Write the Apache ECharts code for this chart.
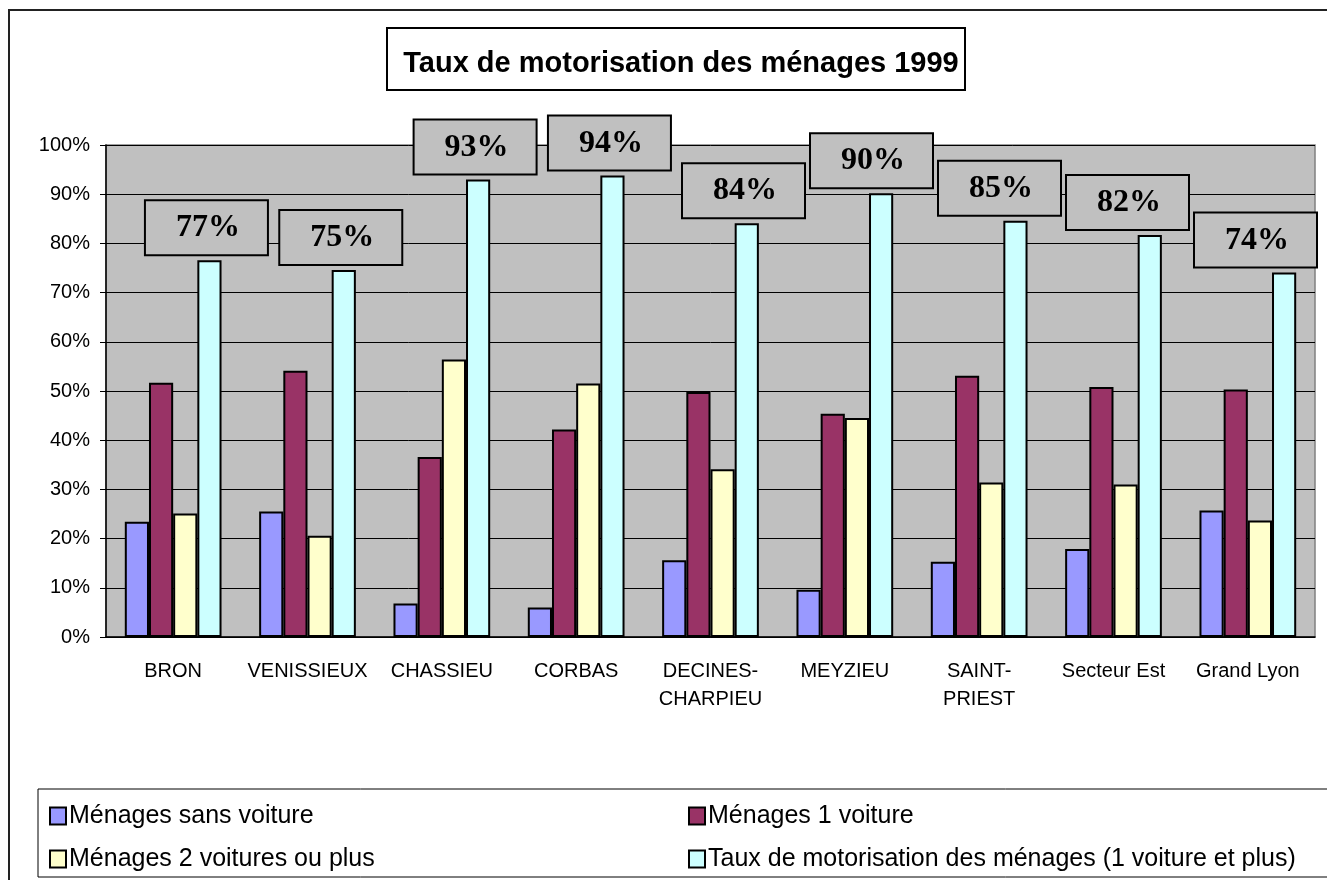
<!DOCTYPE html>
<html>
<head>
<meta charset="utf-8">
<title>Taux de motorisation des ménages 1999</title>
<script src="https://cdn.jsdelivr.net/npm/echarts@6/dist/echarts.min.js"></script>
<style>
  html, body { margin: 0; padding: 0; background: #fff; }
  #chart { width: 1327px; height: 880px; }
</style>
</head>
<body>
<div id="chart"></div>
<script>
// communes / secteurs
const communes = ['BRON', 'VENISSIEUX', 'CHASSIEU', 'CORBAS', 'DECINES-CHARPIEU',
  'MEYZIEU', 'SAINT-PRIEST', 'Secteur Est', 'Grand Lyon'];

// valeurs en %
const sansVoiture = [23.4, 25.5, 6.8, 6.0, 15.6, 9.6, 15.3, 17.9, 25.7];
const uneVoiture = [51.7, 54.1, 36.6, 42.2, 49.8, 45.4, 53.1, 50.8, 50.3];
const deuxVoitures = [25.1, 20.6, 56.4, 51.5, 34.1, 44.5, 31.4, 31.0, 23.7];
const tauxMotorisation = [76.6, 74.6, 93.0, 93.8, 84.1, 90.2, 84.6, 81.7, 74.1];

const yTicks = [0, 10, 20, 30, 40, 50, 60, 70, 80, 90, 100];

const font = '"Liberation Sans", Arial, sans-serif';
const border = { borderColor: '#000', borderWidth: 2 };

let myChart = echarts.init(document.getElementById('chart'));

function barSerie(name, data, color) {
    return {
        name: name,
        type: 'bar',
        data: data,
        barGap: '0%',
        barCategoryGap: '28%',
        itemStyle: Object.assign({ color: color }, border)
    };
}

// shift the label boxes left when they would leave the chart or hit the next one
function labelShifts() {
    const half = 60.5, h = 53, dist = 6, gap = 7, rightLimit = 1316;
    const p0 = myChart.convertToPixel({ xAxisIndex: 0, yAxisIndex: 0 }, [0, 0]);
    const p1 = myChart.convertToPixel({ xAxisIndex: 0, yAxisIndex: 0 }, [1, 0]);
    const w = p1[0] - p0[0];
    const boxes = tauxMotorisation.map((v, i) => {
        const p = myChart.convertToPixel({ xAxisIndex: 0, yAxisIndex: 0 }, [i, v]);
        const c = p[0] + 0.27 * w;
        return { left: c - half, right: c + half, top: p[1] - dist - h, bottom: p[1] - dist };
    });
    const n = boxes.length;
    const shifts = new Array(n).fill(-3);
    shifts[n - 1] = Math.min(-3, rightLimit - boxes[n - 1].right);
    for (let i = n - 2; i >= 0; i--) {
        const a = boxes[i], b = boxes[i + 1];
        if (a.bottom > b.top && a.top < b.bottom) {
            const limit = b.left + shifts[i + 1] - gap;
            if (a.right + shifts[i] > limit) shifts[i] = limit - a.right;
        }
    }
    return shifts;
}

let taux = barSerie('Taux de motorisation des ménages (1 voiture et plus)', tauxMotorisation, '#ccffff');
taux.label = {
    show: true,
    position: 'top',
    distance: 6,
    formatter: p => Math.round(p.value) + '%',
    fontFamily: '"Liberation Serif", "Times New Roman", serif',
    fontWeight: 'bold',
    fontSize: 32,
    color: '#000',
    lineHeight: 32,
    width: 64,
    height: 32,
    align: 'center',
    padding: [11, 27, 10, 30],
    backgroundColor: '#c0c0c0',
    borderColor: '#000',
    borderWidth: 2
};
taux.labelLayout = function (params) {
    return { dx: labelShifts()[params.dataIndex] };
};

myChart.setOption({
    animation: false,
    textStyle: { fontFamily: font, color: '#000' },
    title: {
        text: 'Taux de motorisation des ménages 1999',
        left: 676,
        top: 44,
        textAlign: 'center',
        textStyle: { fontFamily: font, fontWeight: 'bold', fontSize: 29, color: '#000' }
    },
    graphic: [
        { type: 'rect', z: -1, shape: { x: 9, y: 10, width: 1330, height: 880 },
          style: { fill: 'none', stroke: '#222', lineWidth: 2 } },
        { type: 'rect', shape: { x: 387, y: 28, width: 578, height: 62 },
          style: { fill: 'none', stroke: '#000', lineWidth: 2 } },
        { type: 'rect', shape: { x: 38, y: 789, width: 1300, height: 88 },
          style: { fill: 'none', stroke: '#000', lineWidth: 1 } }
    ],
    legend: [
        {
            data: ['Ménages sans voiture', 'Ménages 2 voitures ou plus'],
            orient: 'vertical', left: 44, top: 798,
            itemWidth: 16, itemHeight: 17, itemGap: 17,
            textStyle: { fontSize: 25, lineHeight: 26, color: '#000', padding: [0, 0, 0, -2] },
            icon: 'rect'
        },
        {
            data: ['Ménages 1 voiture', 'Taux de motorisation des ménages (1 voiture et plus)'],
            orient: 'vertical', left: 683, top: 798,
            itemWidth: 16, itemHeight: 17, itemGap: 17,
            textStyle: { fontSize: 25, lineHeight: 26, color: '#000', padding: [0, 0, 0, -2] },
            icon: 'rect'
        }
    ],
    grid: {
        left: 106, right: 12, top: 145, bottom: 243,
        show: true, backgroundColor: '#c0c0c0', borderColor: '#808080', borderWidth: 1.5
    },
    xAxis: {
        type: 'category',
        data: communes,
        axisLine: { lineStyle: { color: '#000', width: 1.5 } },
        axisTick: { length: 6, lineStyle: { color: '#000' } },
        axisLabel: {
            fontSize: 20, lineHeight: 28, margin: 20, color: '#000', interval: 0,
            formatter: v => v.replace('-', '-\n')
        }
    },
    yAxis: {
        type: 'value',
        min: yTicks[0],
        max: yTicks[yTicks.length - 1],
        interval: 10,
        axisLine: { show: true, lineStyle: { color: '#000', width: 1.5 } },
        axisTick: { show: true, length: 6, lineStyle: { color: '#000' } },
        axisLabel: { fontSize: 20, margin: 16, color: '#000', formatter: '{value}%' },
        splitLine: { lineStyle: { color: '#000', width: 1 } }
    },
    series: [
        barSerie('Ménages sans voiture', sansVoiture, '#9999ff'),
        barSerie('Ménages 1 voiture', uneVoiture, '#993366'),
        barSerie('Ménages 2 voitures ou plus', deuxVoitures, '#ffffcc'),
        taux
    ]
});
</script>
</body>
</html>
